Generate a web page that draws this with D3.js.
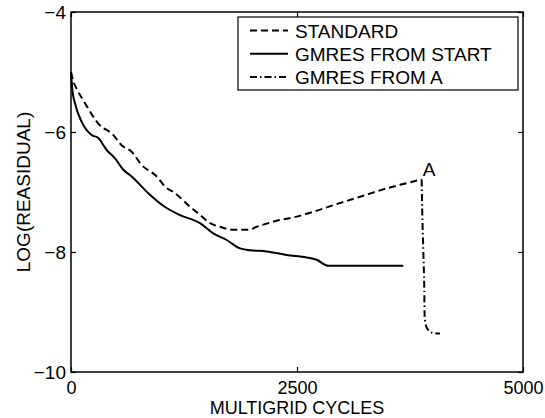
<!DOCTYPE html>
<html><head><meta charset="utf-8">
<script src="https://cdn.jsdelivr.net/npm/d3@7"></script>
<style>
body{margin:0;background:#fff;}
svg{display:block;font-family:"Liberation Sans",Arial,Helvetica,sans-serif;}
</style></head>
<body><svg id="chart" width="545" height="418"></svg>
<script>
const xDomain = [0, 5000];
const yDomain = [-10, -4];
const xTicks = [0, 2500, 5000];
const yTicks = [-4, -6, -8, -10];
const seriesNames = ["STANDARD", "GMRES FROM START", "GMRES FROM A"];

const standardX = [0, 25, 70, 155, 302, 468, 560, 671, 782, 948, 1040, 1150, 1335, 1427, 1538, 1648, 1795, 1961, 2054, 2275, 2497, 2680, 2901, 3197, 3492, 3640, 3879];
const standardY = [-5.0, -5.15, -5.3, -5.52, -5.86, -6.05, -6.22, -6.33, -6.55, -6.74, -6.91, -7.02, -7.27, -7.38, -7.52, -7.58, -7.63, -7.63, -7.58, -7.48, -7.41, -7.33, -7.22, -7.08, -6.94, -6.88, -6.79];

const gmresStartX = [0, 15, 44, 118, 229, 302, 395, 487, 579, 671, 855, 1040, 1200, 1427, 1574, 1722, 1869, 1980, 2164, 2385, 2606, 2717, 2846, 3086, 3676];
const gmresStartY = [-5.0, -5.3, -5.52, -5.83, -6.05, -6.1, -6.3, -6.44, -6.63, -6.74, -7.02, -7.25, -7.38, -7.52, -7.69, -7.8, -7.94, -7.97, -7.99, -8.05, -8.09, -8.13, -8.23, -8.23, -8.23];

const gmresAX = [3879, 3885, 3897, 3908, 3912, 3925, 3952, 4000, 4082];
const gmresAY = [-6.79, -7.3, -7.97, -8.63, -9.08, -9.22, -9.3, -9.35, -9.36];

const pointLabel = "A";
const xLabel = "MULTIGRID CYCLES";
const yLabel = "LOG(REASIDUAL)";

const svg = d3.select("#chart");
const L = 71, R = 523, T = 12, B = 372;
const x = d3.scaleLinear().domain(xDomain).range([L, R]);
const y = d3.scaleLinear().domain(yDomain).range([B, T]);
const fs = 19;

// frame
svg.append("rect").attr("x", L).attr("y", T).attr("width", R - L).attr("height", B - T)
  .attr("fill", "none").attr("stroke", "#000").attr("stroke-width", 1.5);

const fmt = d3.format("d");
const axB = svg.append("g").attr("transform", `translate(0,${B})`)
  .call(d3.axisBottom(x).tickValues(xTicks).tickSize(-5).tickPadding(10).tickFormat(fmt));
const axT = svg.append("g").attr("transform", `translate(0,${T})`)
  .call(d3.axisTop(x).tickValues(xTicks).tickSize(-5).tickFormat(""));
const axL = svg.append("g").attr("transform", `translate(${L},0)`)
  .call(d3.axisLeft(y).tickValues(yTicks).tickSize(-5).tickPadding(10).tickFormat(fmt));
const axR = svg.append("g").attr("transform", `translate(${R},0)`)
  .call(d3.axisRight(y).tickValues(yTicks).tickSize(-5).tickFormat(""));
[axB, axT, axL, axR].forEach(g => {
  g.select(".domain").remove();
  g.selectAll(".tick line").attr("stroke", "#000").attr("stroke-width", 1.2);
  g.selectAll("text").attr("fill", "#000").style("font-size", fs + "px")
    .style("font-family", '"Liberation Sans",Arial,sans-serif');
});
axB.selectAll("text").attr("dy", null).attr("y", 21.5).style("font-size", "18px");
axL.selectAll("text").attr("x", -5).attr("dy", "0.36em");

const line = d3.line().x(d => x(d[0])).y(d => y(d[1])).curve(d3.curveMonotoneX);
const zip = (a, b) => a.map((v, i) => [v, b[i]]);

const styles = [
  {dash: "7,4"},
  {dash: null},
  {dash: "7,3,1.5,3"}
];
const data = [zip(standardX, standardY), zip(gmresStartX, gmresStartY), zip(gmresAX, gmresAY)];

data.forEach((d, i) => {
  svg.append("path").datum(d).attr("d", line).attr("fill", "none")
    .attr("stroke", "#000").attr("stroke-width", 2)
    .attr("stroke-dasharray", styles[i].dash);
});

svg.append("text").attr("x", x(gmresAX[0]) + 1).attr("y", y(gmresAY[0]) - 3)
  .style("font-size", fs + "px").text(pointLabel);

// legend
const lg = svg.append("g");
lg.append("rect").attr("x", 238).attr("y", 17).attr("width", 280).attr("height", 73)
  .attr("fill", "#fff").attr("stroke", "#000").attr("stroke-width", 1.2);
seriesNames.forEach((n, i) => {
  const cy = 30.5 + i * 23.3;
  lg.append("line").attr("x1", 250).attr("x2", 288).attr("y1", cy).attr("y2", cy)
    .attr("stroke", "#000").attr("stroke-width", 2).attr("stroke-dasharray", styles[i].dash);
  lg.append("text").attr("x", 295).attr("y", cy + 7).style("font-size", fs + "px").text(n);
});

svg.append("text").attr("x", (L + R) / 2).attr("y", 414).attr("text-anchor", "middle")
  .style("font-size", "18px").text(xLabel);
svg.append("text").attr("transform", `translate(30,${(T + B) / 2}) rotate(-90)`)
  .attr("text-anchor", "middle").style("font-size", fs + "px").text(yLabel);
</script></body></html>
